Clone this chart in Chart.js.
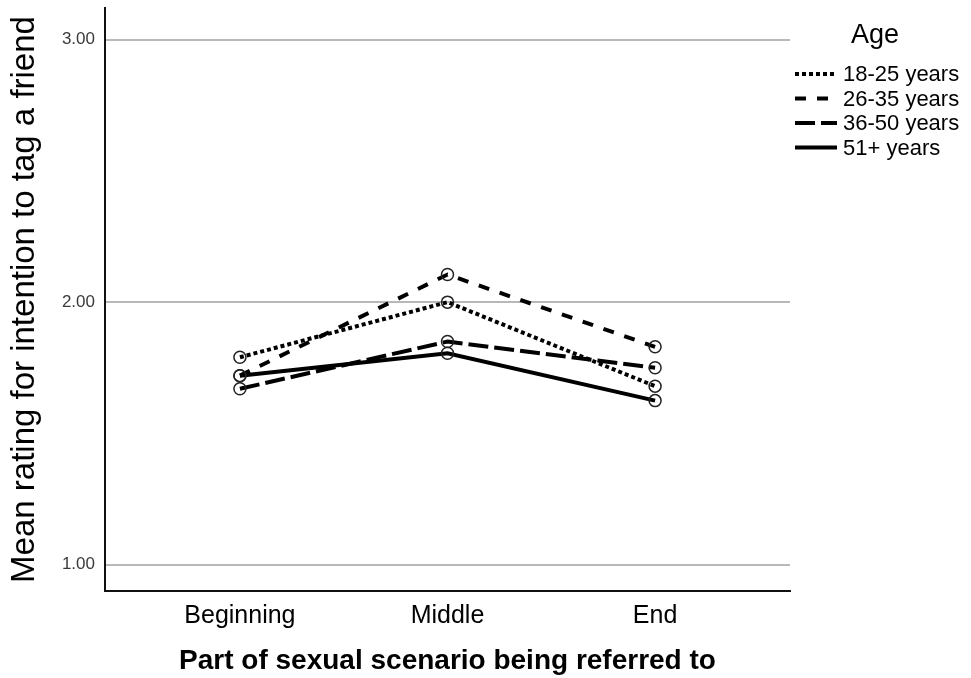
<!DOCTYPE html>
<html>
<head>
<meta charset="utf-8">
<script src="https://cdn.jsdelivr.net/npm/chart.js@4"></script>
<style>
  html, body { margin: 0; padding: 0; background: #fff; }
  #wrap { width: 971px; height: 678px; }
</style>
</head>
<body>
<div id="wrap"><canvas id="chart" width="971" height="678"></canvas></div>
<script>
// values
const parts = ["Beginning", "Middle", "End"];
const yTicks = [1, 2, 3];
const ageGroups = ["18-25 years", "26-35 years", "36-50 years", "51+ years"];
const age18to25 = [1.79, 2.00, 1.68];
const age26to35 = [1.72, 2.105, 1.83];
const age36to50 = [1.67, 1.85, 1.75];
const age51plus = [1.72, 1.805, 1.625];

const FONT = "'Liberation Sans', Arial, sans-serif";
const dashes = [[4, 3], [11, 11], [20, 6], []];
const series = [age18to25, age26to35, age36to50, age51plus];

function toPoints(vals) {
    return vals.map((v, i) => ({x: i, y: v}));
}

const datasets = series.map((vals, i) => ({
    label: ageGroups[i],
    data: toPoints(vals),
    borderColor: "#000",
    borderWidth: 4,
    borderDash: dashes[i],
    pointRadius: 6,
    pointBorderWidth: 1.5,
    pointBorderColor: "#222",
    pointBackgroundColor: "rgba(0,0,0,0)",
    fill: false,
    tension: 0
}));

// legend drawn by hand so it sits where the original one is
const ageLegend = {
    id: "ageLegend",
    afterDraw(chart) {
        const ctx = chart.ctx;
        ctx.save();
        ctx.fillStyle = "#000";
        ctx.textBaseline = "middle";
        ctx.textAlign = "left";
        ctx.font = "27px " + FONT;
        ctx.fillText("Age", 851, 36);
        ctx.font = "22px " + FONT;
        chart.data.datasets.forEach((ds, i) => {
            const y = 74 + i * 24.5;
            ctx.strokeStyle = ds.borderColor;
            ctx.lineWidth = ds.borderWidth;
            ctx.setLineDash(ds.borderDash);
            ctx.beginPath();
            ctx.moveTo(795, y);
            ctx.lineTo(837, y);
            ctx.stroke();
            ctx.setLineDash([]);
            ctx.fillText(ds.label, 843, y + 1);
        });
        ctx.restore();
    }
};

new Chart(document.getElementById("chart"), {
    type: "line",
    data: {datasets: datasets},
    plugins: [ageLegend],
    options: {
        responsive: false,
        animation: false,
        layout: {padding: {top: 8, right: 181, left: 0, bottom: 0}},
        plugins: {legend: {display: false}, tooltip: {enabled: false}},
        scales: {
            x: {
                type: "linear",
                min: -0.65,
                max: 2.65,
                afterBuildTicks: s => { s.ticks = parts.map((p, i) => ({value: i})); },
                afterFit: s => { s.height = 87; },
                grid: {display: false, drawTicks: false},
                border: {display: true, color: "#111", width: 2},
                ticks: {
                    padding: 10,
                    color: "#000",
                    font: {family: FONT, size: 25},
                    callback: v => parts[v]
                },
                title: {
                    display: true,
                    text: "Part of sexual scenario being referred to",
                    color: "#000",
                    font: {family: FONT, size: 28, weight: "bold"},
                    padding: {top: 0, bottom: 0}
                }
            },
            y: {
                min: 0.9,
                max: 3.12,
                afterBuildTicks: s => { s.ticks = yTicks.map(v => ({value: v})); },
                afterFit: s => { s.width = 105; s.paddingTop = 0; s.paddingBottom = 0; },
                grid: {color: "#b8b8b8", lineWidth: 2, drawTicks: false},
                border: {display: true, color: "#111", width: 2},
                ticks: {
                    padding: 10,
                    color: "#3a3a3a",
                    font: {family: FONT, size: 17},
                    callback: v => Number(v).toFixed(2)
                },
                title: {
                    display: true,
                    text: "Mean rating for intention to tag a friend",
                    color: "#000",
                    font: {family: FONT, size: 33},
                    padding: {top: 5, bottom: 2}
                }
            }
        }
    }
});
</script>
</body>
</html>
